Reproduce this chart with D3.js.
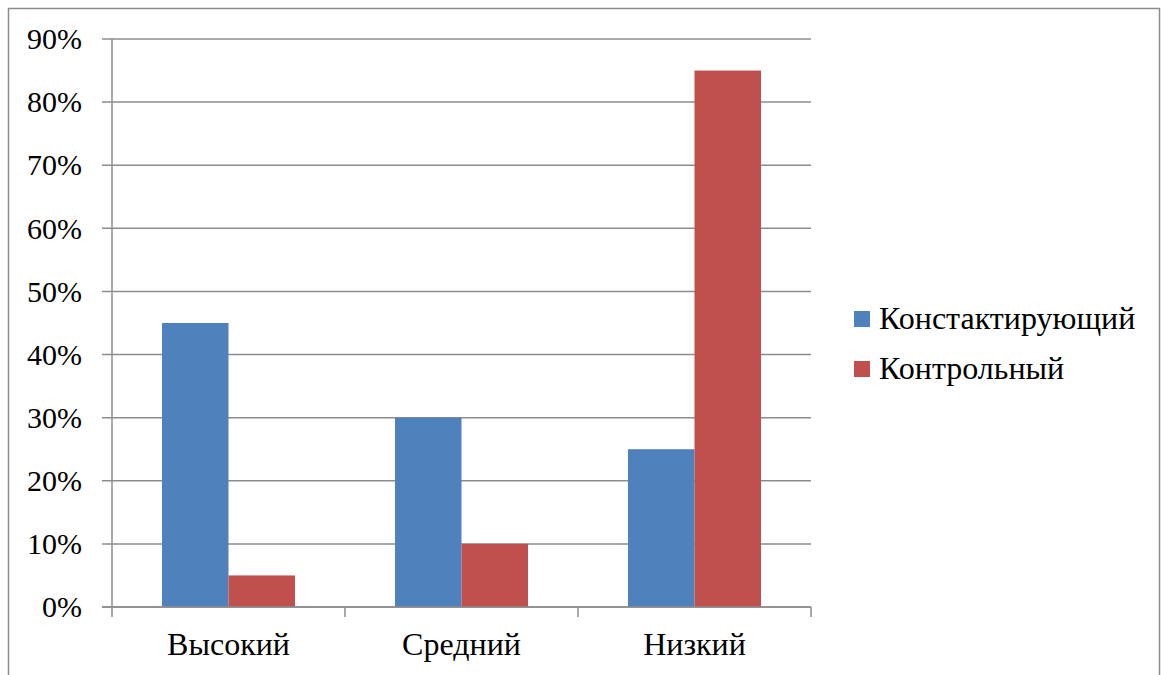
<html>
<head>
	<meta charset="utf-8">
	<title>chart</title>
	<style>
		body { margin: 0; background: #fff; }
		svg text { font-family: "Liberation Serif", "Times New Roman", Tinos, serif !important; }
	</style>
</head>
<body>
	<script src="https://cdnjs.cloudflare.com/ajax/libs/d3/7.8.5/d3.min.js"></script>
	<script type="text/javascript">
		var categories = ["Высокий", "Средний", "Низкий"];
		var seriesNames = ["Констактирующий", "Контрольный"];
		var konstat = [45, 30, 25];
		var kontrol = [5, 10, 85];
		var yTicks = [0, 10, 20, 30, 40, 50, 60, 70, 80, 90];
		var colors = ["#4F81BD", "#C0504D"];

		var W = 1161, H = 675;
		var FONT = "Liberation Serif, Times New Roman, serif";
		var svg = d3.select("body").append("svg")
			.attr("width", W)
			.attr("height", H)
			.attr("font-family", FONT);

		// outer frame
		svg.append("rect")
			.attr("x", 8.5).attr("y", 8.5)
			.attr("width", 1151).attr("height", 700)
			.style("fill", "none")
			.style("stroke", "#8c8c8c")
			.style("stroke-width", "1.5px");

		var pLeft = 112, pRight = 811, pTop = 39, pBottom = 607;

		var x = d3.scaleBand().domain(categories).range([pLeft, pRight]);
		var y = d3.scaleLinear().domain([0, 90]).range([pBottom, pTop]);
		// 133px of bars centered in each 233px band
		var xs = d3.scaleBand().domain(seriesNames).range([50, x.bandwidth() - 50]);

		// gridlines
		svg.append("g").selectAll("line")
			.data(yTicks)
			.enter().append("line")
			.attr("x1", pLeft - 10).attr("x2", pRight)
			.attr("y1", function(d){ return y(d); })
			.attr("y2", function(d){ return y(d); })
			.style("stroke", "#8c8c8c")
			.style("stroke-width", "1.5px");

		// y axis line
		svg.append("line")
			.attr("x1", pLeft).attr("x2", pLeft)
			.attr("y1", pTop).attr("y2", pBottom)
			.style("stroke", "#8c8c8c")
			.style("stroke-width", "1.5px");

		// y labels
		svg.append("g").selectAll("text")
			.data(yTicks)
			.enter().append("text")
			.attr("x", 82)
			.attr("y", function(d){ return y(d); })
			.attr("dy", "0.34em")
			.attr("text-anchor", "end")
			.attr("font-family", FONT)
			.style("font-size", "30px")
			.style("fill", "#000")
			.text(function(d){ return d + "%"; });

		// bars
		var series = [konstat, kontrol];
		series.forEach(function(vals, si){
			svg.append("g").selectAll("rect")
				.data(vals)
				.enter().append("rect")
				.attr("x", function(d, i){ return x(categories[i]) + xs(seriesNames[si]); })
				.attr("width", xs.bandwidth())
				.attr("y", function(d){ return y(d); })
				.attr("height", function(d){ return pBottom - y(d); })
				.style("fill", colors[si]);
		});

		// x axis line and ticks
		svg.append("line")
			.attr("x1", pLeft - 10).attr("x2", pRight)
			.attr("y1", pBottom).attr("y2", pBottom)
			.style("stroke", "#8c8c8c")
			.style("stroke-width", "1.5px");
		var bounds = categories.map(function(c){ return x(c); }).concat([pRight]);
		svg.append("g").selectAll("line")
			.data(bounds)
			.enter().append("line")
			.attr("x1", function(d){ return d; })
			.attr("x2", function(d){ return d; })
			.attr("y1", pBottom).attr("y2", pBottom + 10)
			.style("stroke", "#8c8c8c")
			.style("stroke-width", "1.5px");

		// category labels
		svg.append("g").selectAll("text")
			.data(categories)
			.enter().append("text")
			.attr("x", function(d){ return x(d) + x.bandwidth() / 2; })
			.attr("y", 655)
			.attr("text-anchor", "middle")
			.attr("font-family", FONT)
			.style("font-size", "32px")
			.style("fill", "#000")
			.text(function(d){ return d; });

		// legend
		var legend = svg.append("g").selectAll("g")
			.data(seriesNames)
			.enter().append("g")
			.attr("transform", function(d, i){ return "translate(854," + (311 + i * 50) + ")"; });
		legend.append("rect")
			.attr("width", 16).attr("height", 16)
			.style("fill", function(d, i){ return colors[i]; });
		legend.append("text")
			.attr("x", 25)
			.attr("y", 18)
			.attr("font-family", FONT)
			.style("font-size", "32px")
			.style("fill", "#000")
			.text(function(d){ return d; });
	</script>
</body>
</html>
